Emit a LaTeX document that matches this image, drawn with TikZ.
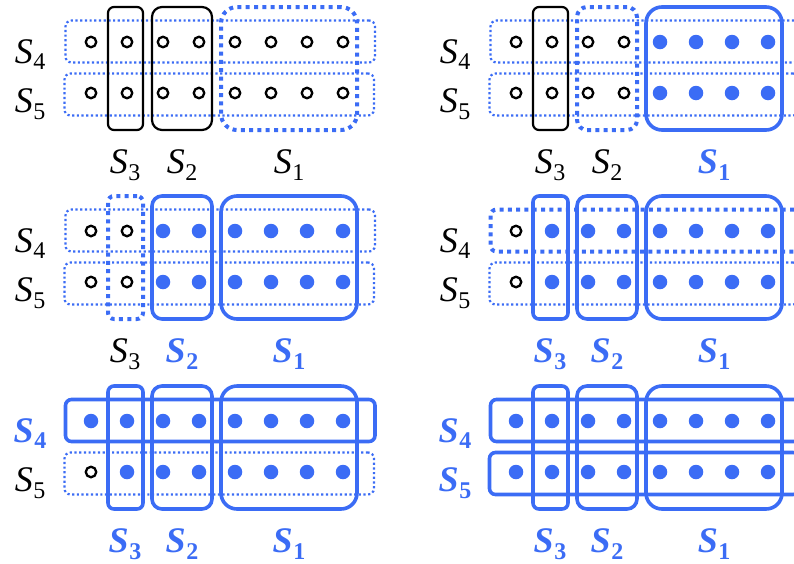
\documentclass[tikz,border=0pt]{standalone}
\usepackage{fontspec}
\setmainfont{Liberation Serif}
\newfontfamily\labfont{Liberation Serif}
\definecolor{bl}{RGB}{59,108,245}
\newcommand\Sn[1]{S\kern0.5pt\raisebox{-6.5pt}{\fontsize{24}{24}\selectfont\upshape #1}}
\tikzset{
  rowbox/.style={rectangle, minimum width=309.5pt, minimum height=42pt, rounded corners=6pt, inner sep=0pt},
  colbox/.style={rectangle, minimum height=123pt, inner sep=0pt},
  thindot/.style={draw=bl, line width=2.2pt, dash pattern=on 2.2pt off 2.5pt},
  thickdot/.style={draw=bl, line width=4pt, dash pattern=on 4pt off 4.3pt},
  blk/.style={draw=black, line width=2.2pt},
  blu/.style={draw=bl, line width=3.6pt},
  lab/.style={anchor=base, inner sep=0pt, font=\labfont\fontsize{36}{40}\selectfont\itshape},
  thindot lab/.style={lab},
  thickdot lab/.style={lab},
  blk lab/.style={lab},
  blu lab/.style={lab, text=bl, font=\labfont\fontsize{36}{40}\selectfont\bfseries\itshape},
  hollow/.style={circle, draw=black, line width=2.3pt, minimum size=10.5pt, inner sep=0pt},
  full/.style={circle, fill=bl, minimum size=14.5pt, inner sep=0pt}
}
% #1 shift, #2 row S4, #3 row S5, #4 S3, #5 S2, #6 S1, #7 hollow in row S4, #8 hollow in row S5, #9 name prefix
\newcommand\panel[9]{%
  \begin{scope}[shift={#1}]
    \node[rowbox,#2] (#9r4) at (220.25,41.5) {};
    \node[rowbox,#3] (#9r5) at (219.25,94.5) {};
    \node[colbox,#4,minimum width=35pt,rounded corners=6pt] (#9c3) at (125.5,68.5) {};
    \node[colbox,#5,minimum width=60pt,rounded corners=10pt] (#9c2) at (182,68.5) {};
    \node[colbox,#6,minimum width=136pt,rounded corners=16pt] (#9c1) at (289,68.5) {};
    \foreach \i in {1,...,8} {
      \pgfmathsetmacro\xx{91+36*(\i-1)}
      \ifnum\i>#7 \node[full] (#9a\i) at (\xx,42) {};\else\node[hollow] (#9a\i) at (\xx,42) {};\fi
      \ifnum\i>#8 \node[full] (#9b\i) at (\xx,93) {};\else\node[hollow] (#9b\i) at (\xx,93) {};\fi
    }
    \node[#2 lab] (#9l4) at (30,63) {\Sn{4}};
    \node[#3 lab] (#9l5) at (30,112.5) {\Sn{5}};
    \node[#4 lab] (#9l3) at (125,173.5) {\Sn{3}};
    \node[#5 lab] (#9l2) at (182,173.5) {\Sn{2}};
    \node[#6 lab] (#9l1) at (289,173.5) {\Sn{1}};
  \end{scope}}
\begin{document}
\begin{tikzpicture}[x=1pt,y=-1pt]
  \useasboundingbox (0,0) rectangle (794,563);
  \panel{(0,0)}{thindot}{thindot}{blk}{blk}{thickdot}{8}{8}{p1-}
  \panel{(425,0)}{thindot}{thindot}{blk}{thickdot}{blu}{4}{4}{p2-}
  \panel{(0,189)}{thindot}{thindot}{thickdot}{blu}{blu}{2}{2}{p3-}
  \panel{(425,189)}{thickdot}{thindot}{blu}{blu}{blu}{1}{1}{p4-}
  \panel{(0,379)}{blu}{thindot}{blu}{blu}{blu}{0}{1}{p5-}
  \panel{(425,379)}{blu}{blu}{blu}{blu}{blu}{0}{0}{p6-}
\end{tikzpicture}
\end{document}
